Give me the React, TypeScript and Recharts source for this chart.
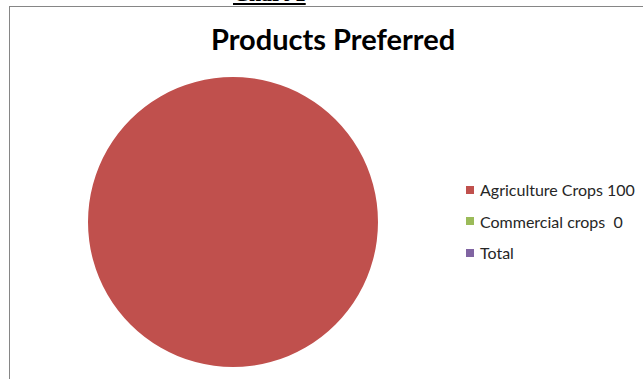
import React from 'react';
import { PieChart, Pie, Cell, Legend } from 'recharts';

const categories = ['Agriculture Crops', 'Commercial crops', 'Total'];
const values: (number | null)[] = [100, 0, null];
const colors = ['#C0504D', '#9BBB59', '#8064A2'];
const valueLabels = ['100', ' 0', ''];

const data = categories.map((name, i) => ({ name, value: values[i] ?? 0 }));

const renderLegend = () => (
  <div style={{ fontFamily: 'Lato, sans-serif', fontSize: 16, color: '#262626' }}>
    {categories.map((name, i) => (
      <div key={name} style={{ display: 'flex', alignItems: 'center', height: 31.5 }}>
        <span style={{ width: 8, height: 8, background: colors[i], marginRight: 6, display: 'inline-block' }} />
        <span style={{ whiteSpace: 'pre' }}>{valueLabels[i] ? `${name} ${valueLabels[i]}` : name}</span>
      </div>
    ))}
  </div>
);

const App: React.FC = () => {
  return (
    <div style={{ position: 'absolute', left: 0, top: 0, width: 643, height: 379, overflow: 'hidden', background: '#fff' }}>
      <div
        style={{
          position: 'absolute', left: 233, top: -19, fontFamily: '"Liberation Serif", serif',
          fontWeight: 'bold', fontSize: 22, textDecoration: 'underline',
        }}
      >
        Chart 1
      </div>
      <div style={{ position: 'absolute', left: 9, top: 6, width: 640, height: 380, borderLeft: '1.5px solid #868686', borderTop: '1.5px solid #868686' }} />
      <div
        style={{
          position: 'absolute', left: 0, width: 666, top: 21, textAlign: 'center',
          fontFamily: 'Lato, sans-serif', fontWeight: 'bold', fontSize: 29, color: '#000',
        }}
      >
        Products Preferred
      </div>
      <div style={{ position: 'absolute', left: 0, top: 0 }}>
        <PieChart width={643} height={379}>
          <Pie
            data={data}
            dataKey="value"
            nameKey="name"
            cx={228}
            cy={217}
            outerRadius={145}
            startAngle={90}
            endAngle={-270}
            stroke="none"
            isAnimationActive={false}
          >
            {data.map((d, i) => (
              <Cell key={d.name} fill={colors[i]} />
            ))}
          </Pie>
          <Legend content={renderLegend} wrapperStyle={{ left: 466, top: 174, width: 180 }} />
        </PieChart>
      </div>
    </div>
  );
};

export default App;
